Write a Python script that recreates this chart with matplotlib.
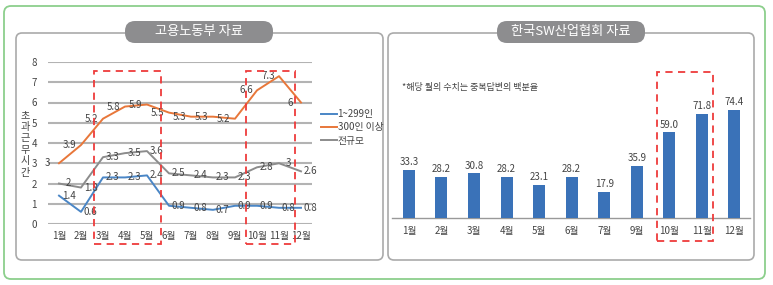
import numpy as np
import matplotlib
matplotlib.use("Agg")
from matplotlib import pyplot as plt
from matplotlib.patches import FancyBboxPatch, Rectangle
from matplotlib.transforms import IdentityTransform

plt.rcParams['font.family'] = ['Noto Sans CJK KR', 'DejaVu Sans']

# left chart data (고용노동부 자료)
months_left = ["1월", "2월", "3월", "4월", "5월", "6월", "7월", "8월", "9월", "10월", "11월", "12월"]
small_firms = [1.4, 0.6, 2.3, 2.3, 2.4, 0.9, 0.8, 0.7, 0.9, 0.9, 0.8, 0.8]
large_firms = [3, 3.9, 5.2, 5.8, 5.9, 5.5, 5.3, 5.3, 5.2, 6.6, 7.3, 6]
all_firms = [2, 1.8, 3.3, 3.5, 3.6, 2.5, 2.4, 2.3, 2.3, 2.8, 3, 2.6]
series_names = ["1~299인", "300인 이상", "전규모"]

# right chart data (한국SW산업협회 자료)
months_right = ["1월", "2월", "3월", "4월", "5월", "6월", "7월", "9월", "10월", "11월", "12월"]
survey_pct = [33.3, 28.2, 30.8, 28.2, 23.1, 28.2, 17.9, 35.9, 59.0, 71.8, 74.4]

W, H = 773, 285
fig = plt.figure(figsize=(W / 100, H / 100), dpi=100)


def fr(x0, y0, x1, y1):
    # pixel box (top-left origin) -> figure fraction rect
    return [x0 / W, 1 - y1 / H, (x1 - x0) / W, (y1 - y0) / H]


def box(x0, y0, x1, y1, r, **kw):
    p = FancyBboxPatch((x0, H - y1), x1 - x0, y1 - y0,
                       boxstyle="round,pad=0,rounding_size=%g" % r,
                       transform=IdentityTransform(), zorder=-1, **kw)
    fig.patches.append(p)
    return p


def dashed(x0, y0, x1, y1):
    p = Rectangle((x0, H - y1), x1 - x0, y1 - y0, transform=IdentityTransform(),
                  fill=False, edgecolor="#ee3b3b", lw=1.3, ls=(0, (4, 3)), zorder=10)
    fig.patches.append(p)


# frames
box(4, 6, 765, 279, 7, facecolor="white", edgecolor="#8ccf8c", lw=1.3)
box(16, 33, 383, 260, 6, facecolor="white", edgecolor="#aaaaaa", lw=1.2)
box(388, 33, 754, 260, 6, facecolor="white", edgecolor="#aaaaaa", lw=1.2)
box(125, 21, 273, 43, 10, facecolor="#8d8d8f", edgecolor="none")
box(497, 21, 645, 43, 10, facecolor="#8d8d8f", edgecolor="none")
fig.text(199 / W, 1 - 32 / H, "고용노동부 자료", color="white", fontsize=9.5,
         ha="center", va="center")
fig.text(571 / W, 1 - 32 / H, "한국SW산업협회 자료", color="white", fontsize=9.5,
         ha="center", va="center")

# ---- left line chart
ax = fig.add_axes(fr(48, 62, 312, 224))
ax.set_facecolor("none")
x = np.arange(len(months_left))
colors = ["#4a86c6", "#e8773a", "#8c8c8c"]
for vals, name, c, dx in zip([small_firms, large_firms, all_firms], series_names, colors, [7, -8, 7]):
    ax.plot(x, vals, color=c, lw=1.4, label=name, zorder=3)
    for xi, v in zip(x, vals):
        ax.annotate("%g" % v, (xi, v), xytext=(dx, 0), textcoords="offset points",
                    ha="center", va="center", fontsize=7, color="#444444", zorder=4)
ax.set_xlim(-0.5, 11.5)
ax.set_ylim(0, 8)
ax.set_yticks(range(0, 9))
ax.yaxis.grid(True, color="#b3b3b3", lw=1.5)
ax.set_axisbelow(True)
for s in ax.spines.values():
    s.set_visible(False)
ax.set_xticks(x)
ax.set_xticklabels(months_left)
ax.tick_params(length=0, labelsize=7, colors="#444444")
ax.tick_params(axis="x", pad=5)
ax.tick_params(axis="y", pad=8)
fig.text(25 / W, 1 - 144 / H, "초\n과\n근\n무\n시\n간", fontsize=7.3, color="#444444",
         ha="center", va="center", linespacing=1.2)
ax.legend(loc="upper left", bbox_to_anchor=(321 / W, 1 - 109 / H),
          bbox_transform=fig.transFigure, frameon=False, fontsize=7,
          handlelength=1.6, handletextpad=0.1, labelspacing=0.35,
          borderpad=0, borderaxespad=0, labelcolor="#444444")

dashed(94, 71, 161, 244)
dashed(246, 71, 295, 244)

# ---- right bar chart
bx = fig.add_axes(fr(392, 62, 750, 218))
bx.set_facecolor("none")
xb = np.arange(len(months_right))
bx.bar(xb, survey_pct, width=0.37, color="#3a72b8", zorder=3)
for xi, v in zip(xb, survey_pct):
    bx.annotate("%.1f" % v, (xi, v), xytext=(0, 2), textcoords="offset points",
                ha="center", va="bottom", fontsize=7, color="#444444")
bx.set_xlim(-0.52, 10.48)
bx.set_ylim(0, 107.6)
for k, s in bx.spines.items():
    s.set_visible(k == "bottom")
bx.spines["bottom"].set_color("#999999")
bx.spines["bottom"].set_linewidth(1.0)
bx.set_yticks([])
bx.set_xticks(xb)
bx.set_xticklabels(months_right)
bx.tick_params(length=0, labelsize=7, colors="#444444", pad=6)
fig.text(402 / W, 1 - 87 / H, "*해당 월의 수치는 중복답변의 백분율", fontsize=6.5,
         color="#444444", ha="left", va="center")

dashed(657, 72, 713, 241)

fig.savefig("out.png", dpi=100)
